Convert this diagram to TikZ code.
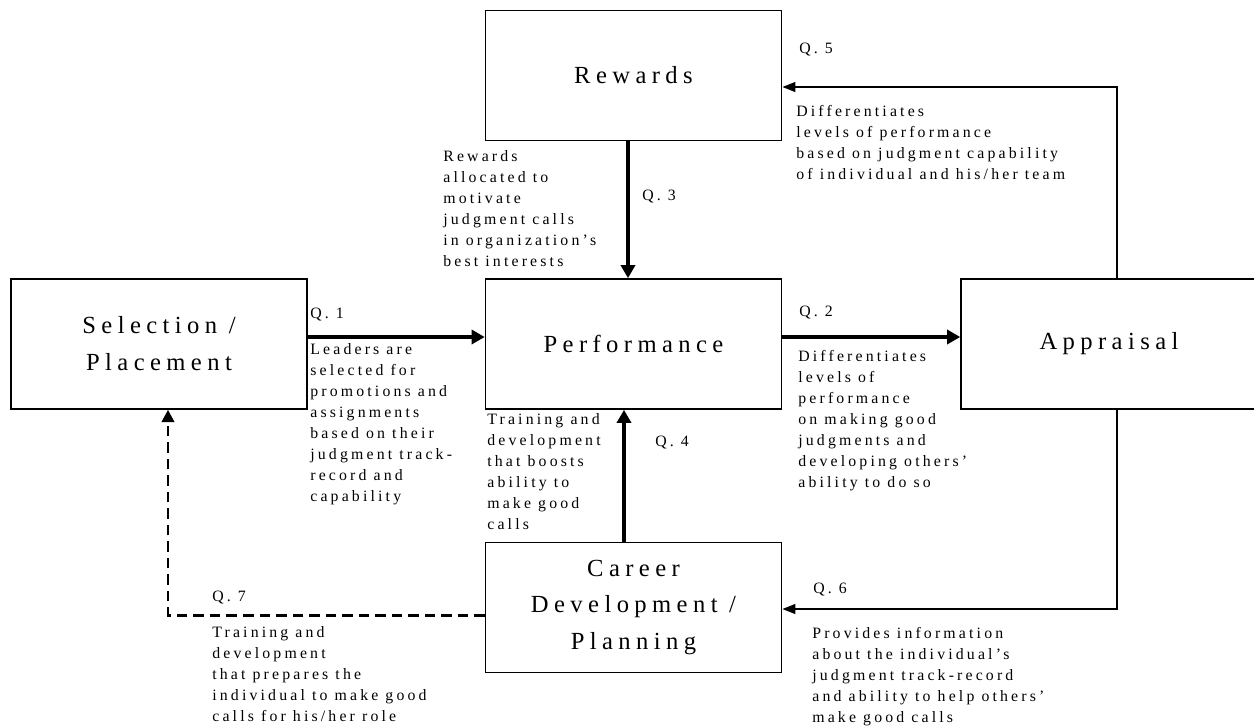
\documentclass[tikz,border=0pt]{standalone}
\usepackage{fontspec}
\usetikzlibrary{arrows.meta}
\newfontfamily\boxfont[LetterSpace=22]{Liberation Serif}
\newfontfamily\notefont[LetterSpace=20]{Liberation Serif}

\begin{document}
\begin{tikzpicture}[x=0.02cm, y=-0.02cm,
		box/.style = {draw, line width=0.9pt, minimum width=5.92cm, minimum height=2.6cm,
			inner sep=0pt, align=center, font=\boxfont\fontsize{14}{21}\selectfont},
		note/.style = {anchor=north west, inner sep=0pt, align=left,
			font=\notefont\fontsize{9}{11.95}\selectfont},
		link/.style = {line width=2pt, -{Triangle[length=7.5pt, width=8pt]}},
		back/.style = {line width=1.3pt, -{Triangle[length=7.5pt, width=5.5pt]}}]

	\useasboundingbox (0,0) rectangle (1254,727);

	\node [box] (rewards) at (633.5,75.5) {Rewards};
	\node [box] (select) at (159,344) {Selection /\\Placement};
	\node [box] (perf) at (633.5,344) {Performance};
	\node [box] (apprais) at (1109,344) {Appraisal};
	\node [box] (career) at (633.5,607.5) {Career\\Development /\\Planning};

	\coordinate (q5bend) at (1117,87);
	\coordinate (q6bend) at (1117,609);
	\coordinate (q7bend) at (168,615);

	\draw [link] ([yshift=0.14cm]select.east) -- ([yshift=0.14cm]perf.west);
	\draw [link] ([yshift=0.14cm]perf.east) -- ([yshift=0.14cm]apprais.west);
	\draw [link] ([xshift=-0.11cm]rewards.south) -- ([xshift=-0.11cm]perf.north);
	\draw [link] ([xshift=-0.19cm]career.north) -- ([xshift=-0.19cm]perf.south);

	\begin{scope}[back]
		\draw (apprais.north -| q5bend) -- (q5bend) -- (rewards.east |- q5bend);
		\draw (apprais.south -| q6bend) -- (q6bend) -- (career.east |- q6bend);
	\end{scope}
	\draw [line width=1.7pt, dash pattern=on 6pt off 3.4pt, -{Triangle[length=7pt, width=7pt]}]
		(career.west |- q7bend) -- (q7bend) -- (select.south -| q7bend);

	\node [note] (q1lbl) at (310,308) {Q. 1};
	\node [note] (q1txt) at (310,343) {Leaders are\\selected for\\promotions and\\assignments\\based on their\\judgment track-\\record and\\capability};
	\node [note] (q2lbl) at (799,306) {Q. 2};
	\node [note] (q2txt) at (798,350) {Differentiates\\levels of\\performance\\on making good\\judgments and\\developing others’\\ability to do so};
	\node [note] (q3lbl) at (642,190) {Q. 3};
	\node [note] (q3txt) at (443,150) {Rewards\\allocated to\\motivate\\judgment calls\\in organization’s\\best interests};
	\node [note] (q4lbl) at (655,436) {Q. 4};
	\node [note] (q4txt) at (487,413) {Training and\\development\\that boosts\\ability to\\make good\\calls};
	\node [note] (q5lbl) at (799,43) {Q. 5};
	\node [note] (q5txt) at (796,105) {Differentiates\\levels of performance\\based on judgment capability\\of individual and his/her team};
	\node [note] (q6lbl) at (813,583) {Q. 6};
	\node [note] (q6txt) at (812,627) {Provides information\\about the individual’s\\judgment track-record\\and ability to help others’\\make good calls};
	\node [note] (q7lbl) at (212,591) {Q. 7};
	\node [note] (q7txt) at (212,626) {Training and\\development\\that prepares the\\individual to make good\\calls for his/her role};
\end{tikzpicture}
\end{document}
